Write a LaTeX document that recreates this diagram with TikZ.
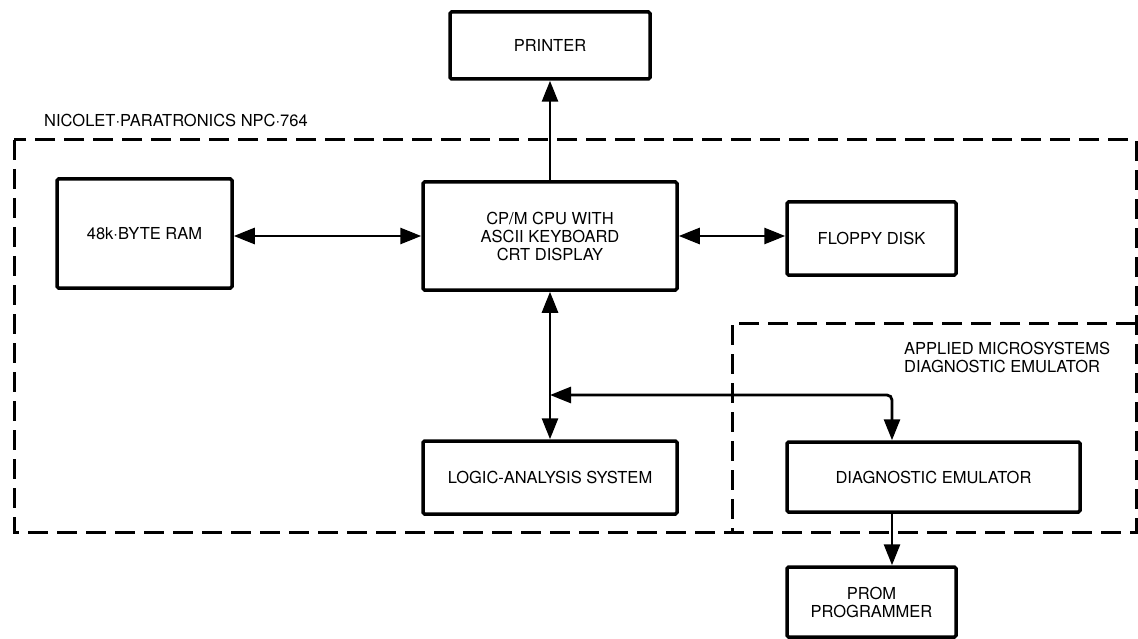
\documentclass[tikz,border=0pt]{standalone}
\usepackage{fontspec}
\setmainfont{TeX Gyre Heros}
\usetikzlibrary{arrows.meta}
\tikzset{
  blk/.style={draw, line width=3.5pt, rounded corners=1.5pt, inner sep=0pt, align=center,
              font=\fontsize{16.5}{18}\selectfont},
  lbl/.style={inner sep=0pt, align=left, font=\fontsize{16.5}{18}\selectfont},
  tip/.tip={Triangle[length=21pt 0 0,width=16pt 0 0]},
  conn/.style={line width=2.8pt, arrows={-tip}},
  dconn/.style={line width=2.8pt, arrows={tip-tip}},
  dashbox/.style={line width=3pt, dash pattern=on 20pt off 9pt}
}
\begin{document}
\begin{tikzpicture}[x=1pt,y=-1pt]
\useasboundingbox (0,0) rectangle (1138,639);
% dashed enclosures
\draw[dashbox] (14,140) rectangle (1136,532);
\draw[dashbox] (1136,323) -- (732,323) -- (732,532);
% labels
\node[lbl, anchor=west] (nlabel) at (44,120) {NICOLET·PARATRONICS NPC·764};
\node[lbl, anchor=west] (alabel) at (904,357) {APPLIED MICROSYSTEMS\\DIAGNOSTIC EMULATOR};
% blocks
\node[blk, minimum width=200pt, minimum height=67pt] (printer) at (550,45.5) {PRINTER};
\node[blk, minimum width=175pt, minimum height=109pt] (ram) at (144.5,233.5) {48k·BYTE RAM};
\node[blk, minimum width=254pt, minimum height=108pt] (cpu) at (550,236) {CP/M CPU WITH\\ASCII KEYBOARD\\CRT DISPLAY};
\node[blk, minimum width=169pt, minimum height=73pt] (floppy) at (871.5,238.5) {FLOPPY DISK};
\node[blk, minimum width=254pt, minimum height=73pt] (logic) at (550,477.5) {LOGIC-ANALYSIS SYSTEM};
\node[blk, minimum width=293pt, minimum height=70pt] (diag) at (933.5,477) {DIAGNOSTIC EMULATOR};
\node[blk, minimum width=169pt, minimum height=70pt] (prom) at (871.5,602) {PROM\\PROGRAMMER};
% connectors
\coordinate (junc) at (550,395);
\coordinate (busx) at (892,395);
\draw[conn] (cpu.north) -- (printer.south);
\draw[dconn] (ram.east |- cpu.west) -- (cpu.west);
\draw[dconn] (cpu.east) -- (floppy.west |- cpu.east);
\draw[dconn] (cpu.south) -- (logic.north);
\draw[dconn, rounded corners=5pt] (junc) -- (busx) -- (diag.north -| busx);
\draw[conn] (diag.south -| busx) -- (prom.north -| busx);
\end{tikzpicture}
\end{document}
